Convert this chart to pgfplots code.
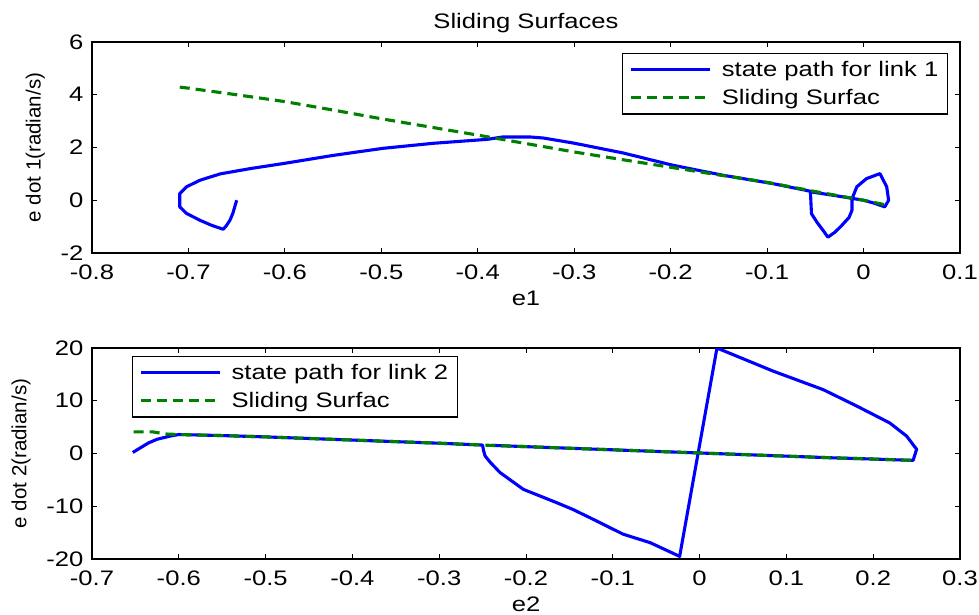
\documentclass[border=0pt]{standalone}
\usepackage{fontspec}
\setmainfont{Liberation Sans}[FakeStretch=1.22]
\newfontfamily\labelfont{Liberation Sans}
\usepackage{pgfplots}
\pgfplotsset{compat=1.18}
\definecolor{mblue}{rgb}{0,0,1}
\definecolor{mgreen}{rgb}{0,0.5,0}

\pgfplotsset{
  matlab/.style={
    scale only axis, width=868pt, height=211pt,
    axis line style={line width=1.1pt, black},
    tick align=inside, major tick length=5pt,
    tick style={line width=0.9pt, black},
    font=\fontsize{21}{25}\selectfont,
    /pgf/number format/assume math mode=true,
    xticklabel style={yshift=-8.5pt},
    yticklabel style={xshift=-5pt},
    xlabel style={yshift=-4pt},
    ylabel style={font=\labelfont\fontsize{20.5}{24}\selectfont, yshift=9pt},
    legend cell align=left,
    legend image code/.code={\draw[##1, line width=3.1pt] (0pt,0pt) -- (79pt,0pt);},
    legend style={draw=black, line width=1.1pt, fill=white,
      font=\fontsize{21}{25}\selectfont,
      inner xsep=7pt, inner ysep=6pt,
      row sep=7pt},
    /tikz/every odd column/.append style={column sep=8pt},
  },
  spath/.style={mblue, line width=3.1pt, line join=round},
  ssurf/.style={mgreen, line width=3.1pt, dash pattern=on 10pt off 6pt},
}

\begin{document}
\begin{tikzpicture}
\useasboundingbox (0pt,0pt) rectangle (979pt,-614pt);

% link 1
\begin{axis}[matlab,
  at={(92pt,-42pt)}, anchor=north west,
  xmin=-0.8, xmax=0.1, ymin=-2, ymax=6,
  xtick={-0.8,-0.7,...,0.1}, ytick={-2,0,2,4,6},
  xticklabels={-0.8,-0.7,-0.6,-0.5,-0.4,-0.3,-0.2,-0.1,0,0.1},
  title={Sliding Surfaces},
  xlabel={e1}, ylabel={e dot 1(radian/s)},
  legend style={at={(0.986,0.948)}, anchor=north east},
]
\addplot[spath] coordinates {
  (-0.650,0.00) (-0.652,-0.25) (-0.654,-0.50) (-0.657,-0.76) (-0.661,-0.98)
  (-0.664,-1.10) (-0.676,-0.95) (-0.688,-0.76) (-0.702,-0.50) (-0.709,-0.25)
  (-0.709,0.00) (-0.709,0.25) (-0.702,0.51) (-0.688,0.76) (-0.667,1.00)
  (-0.636,1.20) (-0.602,1.39) (-0.550,1.70) (-0.498,1.97) (-0.446,2.16)
  (-0.390,2.31) (-0.374,2.40) (-0.346,2.40) (-0.332,2.36) (-0.301,2.17)
  (-0.249,1.79) (-0.198,1.33) (-0.146,0.95) (-0.094,0.63) (-0.055,0.34)
  (-0.055,0.25) (-0.054,-0.51) (-0.048,-0.85) (-0.042,-1.14) (-0.037,-1.40)
  (-0.030,-1.22) (-0.024,-1.01) (-0.015,-0.65) (-0.012,-0.38) (-0.012,0.05)
  (-0.007,0.51) (0.003,0.82) (0.017,1.01) (0.024,0.51) (0.026,0.00)
  (0.022,-0.25) (0.010,-0.10) (0.000,0.00) (-0.030,0.18) (-0.055,0.32)
};
\addplot[ssurf] coordinates {
  (-0.709,4.29) (-0.700,4.25) (-0.650,4.00) (-0.600,3.74) (-0.550,3.42)
  (-0.500,3.09) (-0.450,2.78) (-0.400,2.47) (-0.350,2.15) (-0.300,1.83)
  (-0.250,1.54) (-0.200,1.25) (-0.150,0.96) (-0.100,0.68) (-0.050,0.33)
  (0.000,0.00) (0.025,-0.19)
};
\legend{state path for link 1, Sliding Surfac}
\end{axis}

% link 2
\begin{axis}[matlab,
  at={(92pt,-348pt)}, anchor=north west,
  xmin=-0.7, xmax=0.3, ymin=-20, ymax=20,
  xtick={-0.7,-0.6,...,0.3}, ytick={-20,-10,0,10,20},
  xticklabels={-0.7,-0.6,-0.5,-0.4,-0.3,-0.2,-0.1,0,0.1,0.2,0.3},
  xlabel={e2}, ylabel={e dot 2(radian/s)},
  legend style={at={(0.046,0.962)}, anchor=north west},
]
\addplot[spath] coordinates {
  (-0.653,0.2) (-0.645,1.0) (-0.635,2.0) (-0.625,2.7) (-0.610,3.3)
  (-0.600,3.6) (-0.550,3.4) (-0.500,3.15) (-0.450,2.85) (-0.400,2.55)
  (-0.350,2.25) (-0.300,1.95) (-0.250,1.6) (-0.249,0.6) (-0.247,-0.5)
  (-0.241,-1.7) (-0.230,-3.6) (-0.203,-6.8) (-0.165,-9.3) (-0.146,-10.6)
  (-0.126,-12.2) (-0.088,-15.3) (-0.057,-16.9) (-0.023,-19.5) (0.020,20.0)
  (0.085,15.6) (0.1425,12.1) (0.181,9.0) (0.219,5.8) (0.2385,3.3)
  (0.250,0.8) (0.246,-1.3) (0.200,-1.05) (0.150,-0.8) (0.100,-0.5)
  (0.050,-0.2) (0.000,0.1) (-0.050,0.4) (-0.100,0.7) (-0.150,1.0)
  (-0.200,1.3) (-0.240,1.55)
};
\addplot[ssurf] coordinates {
  (-0.652,4.1) (-0.630,4.1) (-0.615,3.7) (-0.600,3.6) (-0.550,3.4)
  (-0.500,3.15) (-0.450,2.85) (-0.400,2.55) (-0.350,2.25) (-0.300,1.95)
  (-0.250,1.6) (-0.200,1.3) (-0.150,1.0) (-0.100,0.7) (-0.050,0.4)
  (0.000,0.1) (0.050,-0.2) (0.100,-0.5) (0.150,-0.8) (0.200,-1.05)
  (0.245,-1.3)
};
\legend{state path for link 2, Sliding Surfac}
\end{axis}
\end{tikzpicture}
\end{document}
